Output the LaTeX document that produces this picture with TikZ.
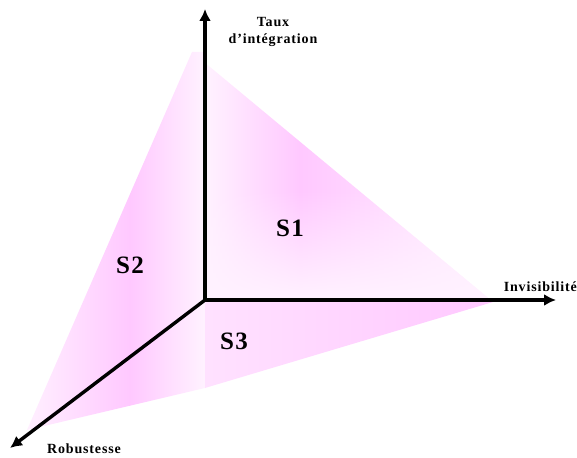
\documentclass[tikz,border=0pt]{standalone}
\usepackage{fontspec}
\setmainfont{Liberation Serif}
\usetikzlibrary{arrows.meta,fadings}
\definecolor{pinkdark}{HTML}{FFC8FF}
\definecolor{pinklight}{HTML}{FFF2FF}
\tikzset{
  axis/.style={line width=3.4pt,-{Latex[length=12pt,width=12pt]}},
  axlabel/.style={font=\bfseries\fontsize{14}{17}\selectfont\addfontfeature{LetterSpace=6},align=center,inner sep=0pt},
  seclabel/.style={font=\bfseries\fontsize{25}{26}\selectfont\addfontfeature{LetterSpace=6},inner sep=0pt}
}
\begin{document}
\begin{tikzpicture}[x=1pt,y=-1pt]
\useasboundingbox (0,0) rectangle (577,457);
% key points
\coordinate (O) at (205,300);
\coordinate (T) at (192,52);
\coordinate (R) at (493,302);
\coordinate (B) at (27,430);
\coordinate (M) at (205,388);
% S1 region
\begin{scope}
\clip (O) -- (205,52) -- (T) -- (R) -- cycle;
\shade[left color=pinklight,right color=pinkdark] (205,40) rectangle (300,300);
\shade[left color=pinkdark,right color=pinklight] (300,40) rectangle (500,300);
\fill[pinklight,path fading=north] (205,190) rectangle (500,300);
\end{scope}
% S2 region
\begin{scope}
\clip (T) -- (205,52) -- (O) -- (M) -- (B) -- cycle;
\shade[left color=pinklight,right color=pinkdark] (20,40) rectangle (130,440);
\shade[left color=pinkdark,right color=pinklight] (130,40) rectangle (205,440);
\end{scope}
% S3 region
\begin{scope}
\clip (O) -- (R) -- (M) -- cycle;
\shade[left color=pinklight!60!pinkdark,right color=pinkdark] (205,300) rectangle (493,390);
\end{scope}
% axes
\draw[axis] (O) -- (205,9) coordinate (Ttip);
\draw[axis] (O) -- (556,300) coordinate (Itip);
\draw[axis] (O) -- (10,448) coordinate (Rtip);
% labels
\node[axlabel] (taux) at (273,32) {Taux\\d'intégration};
\node[axlabel,anchor=east] (inv) at (577,287) {Invisibilité};
\node[axlabel] (rob) at (84,449) {Robustesse};
\node[seclabel] (s1) at (290,228) {S1};
\node[seclabel] (s2) at (130,265) {S2};
\node[seclabel] (s3) at (234,341) {S3};
\end{tikzpicture}
\end{document}
